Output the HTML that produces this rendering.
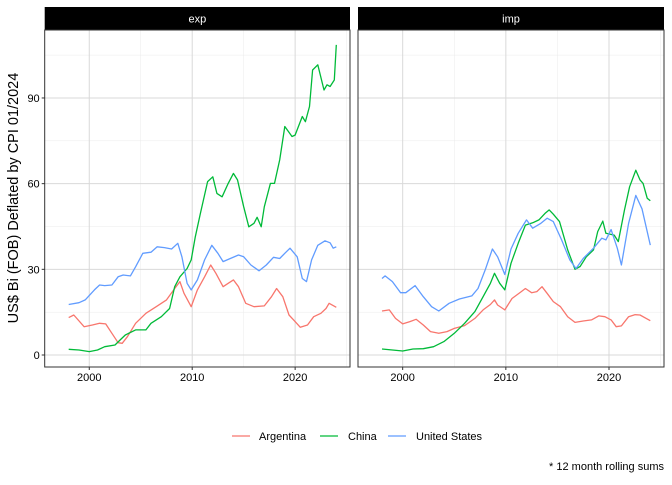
<!DOCTYPE html>
<html><head><meta charset="utf-8"><style>
body{margin:0;background:#fff;}
svg text{font-family:"Liberation Sans",Arial,sans-serif;}
</style></head><body>
<svg id="chart" width="672" height="480" xmlns="http://www.w3.org/2000/svg">
<rect width="672" height="480" fill="#fff"/>
<g id="panels"></g>
<text x="18" y="198" transform="rotate(-90 18 198)" font-size="14.5" text-anchor="middle" fill="#000">US$ Bi (FOB) Deflated by CPI 01/2024</text>
<g>
<g><line x1="232" y1="436" x2="250" y2="436" stroke="#F8766D" stroke-width="1.2"/><text x="259" y="440" font-size="11">Argentina</text></g>
<g><line x1="320" y1="436" x2="338" y2="436" stroke="#00BA38" stroke-width="1.2"/><text x="348" y="440" font-size="11">China</text></g>
<g><line x1="388" y1="436" x2="406" y2="436" stroke="#619CFF" stroke-width="1.2"/><text x="416" y="440" font-size="11">United States</text></g>
</g>
<text x="664" y="470" font-size="11" text-anchor="end">* 12 month rolling sums</text>
</svg>
<script>
const panelNames=["exp","imp"];
const yTicks=[0,30,60,90];
const xTicks=[2000,2010,2020];
const seriesNames=["Argentina","China","United States"];
const expArgYears=[1998,1998.5,1999.5,2000.3,2001,2001.6,2002.2,2002.8,2003.2,2003.7,2004.5,2005.5,2006.5,2007.5,2008.3,2008.8,2009.2,2009.9,2010.5,2011.2,2011.8,2012.3,2013,2013.5,2014,2014.5,2015.2,2016,2017,2017.7,2018.2,2018.8,2019.4,2020,2020.5,2021.2,2021.8,2022.5,2023,2023.3,2024];
const expArgVals=[13.1,14,9.9,10.5,11.1,10.9,7.6,4.3,4.1,6.4,11.1,14.6,16.9,19.3,23.3,25.7,21.6,16.9,22.8,27.4,31.5,28.6,23.9,25.1,26.3,23.9,18.1,16.9,17.2,20.4,23.3,20.4,14,11.7,9.7,10.5,13.4,14.6,16.3,18.1,16.7];
const expChnYears=[1998,1999,2000,2000.8,2001.5,2002.5,2003,2003.5,2004.5,2005.5,2006,2007,2007.8,2008.3,2008.8,2009.5,2009.9,2010.3,2010.8,2011.5,2012,2012.4,2012.9,2013.5,2014,2014.4,2015,2015.5,2016,2016.3,2016.7,2017,2017.6,2018,2018.5,2019,2019.7,2020,2020.7,2021,2021.4,2021.7,2022.2,2022.8,2023.1,2023.4,2023.8,2024];
const expChnVals=[2,1.75,1.2,1.75,2.9,3.5,5.3,7,8.8,8.8,11.1,13.4,16.3,23.9,27.4,30.3,33.3,41.4,49.6,60.7,62.4,56.6,55.4,60.1,63.6,61.3,51.9,44.9,46.1,48.2,44.9,51.9,60.1,60.1,68.3,80,76.5,77,83.5,81.7,87,99.8,101.6,92.8,94.6,94,96.3,108.6];
const expUsYears=[1998,1999,1999.6,2000.5,2001,2001.5,2002.2,2002.8,2003.3,2004,2004.5,2005.2,2006,2006.6,2007.3,2008,2008.6,2009,2009.5,2009.9,2010.5,2011.2,2011.9,2012.5,2013,2013.7,2014.5,2015,2015.7,2016.5,2017.2,2017.9,2018.5,2019,2019.5,2020.2,2020.7,2021.1,2021.6,2022.2,2022.9,2023.4,2023.7,2024];
const expUsVals=[17.7,18.3,19.3,22.8,24.5,24.3,24.5,27.4,28,27.7,30.9,35.6,36,37.9,37.6,37.1,39.1,34.4,25.1,22.8,26.3,33.3,38.4,35.6,32.7,33.8,35,34.4,31.5,29.5,31.5,34.2,33.8,35.6,37.4,34.4,26.8,25.7,33.3,38.4,40,39.3,37.4,37.9];
const impArgYears=[1998,1998.7,1999.3,2000,2000.7,2001.3,2002,2002.7,2003.5,2004.3,2005,2006,2007,2007.8,2008.5,2008.9,2009.2,2009.9,2010.6,2011.5,2011.9,2012.5,2013,2013.5,2014,2014.6,2015.3,2016,2016.7,2017.5,2018.3,2019,2019.6,2020.2,2020.7,2021.2,2021.9,2022.5,2023,2023.6,2024];
const impArgVals=[15.4,15.8,12.8,10.9,11.7,12.5,10.5,8.2,7.6,8.2,9.3,10.3,12.8,15.8,17.7,19.3,17.5,15.8,19.8,22.2,23.3,21.8,22.2,23.9,21.6,18.7,16.9,13.4,11.4,11.9,12.3,13.7,13.4,12.3,9.9,10.2,13.4,14.1,14,12.8,12];
const impChnYears=[1998,1999,2000,2001,2002,2003,2004,2005,2006,2007,2007.8,2008.5,2008.9,2009.4,2009.9,2010.5,2011.2,2011.9,2012.6,2013.2,2013.8,2014.2,2014.6,2015.2,2016,2016.7,2017.2,2017.8,2018.5,2018.9,2019.4,2019.7,2020.5,2020.9,2021.5,2022,2022.6,2023,2023.3,2023.7,2024];
const impChnVals=[2.1,1.75,1.4,2.1,2.2,2.9,4.7,7.6,11.1,15.2,20.4,25.1,28.6,25.1,22.8,32.1,39.1,45.5,46.3,47.3,49.6,50.8,49.3,46.7,36.8,30,31,34.4,36.8,43.2,46.9,42.6,42,39.7,50.8,58.9,64.7,61.3,60.1,54.9,54];
const impUsYears=[1998,1998.3,1999,1999.8,2000.3,2001.2,2002,2002.8,2003.5,2004.5,2005.5,2006.7,2007.3,2008,2008.7,2009.2,2009.9,2010.5,2011.2,2012,2012.6,2013.4,2014,2014.6,2015.4,2016.2,2016.8,2017.5,2018.5,2019.3,2019.7,2020.2,2020.8,2021.2,2021.9,2022.6,2023.2,2024];
const impUsVals=[26.8,27.7,25.7,21.8,21.8,24.3,20.4,16.9,15.4,18.1,19.6,20.7,23.3,29.8,37.1,34.4,28.2,37.1,42.6,47.3,44.4,46.1,47.9,46.7,40.3,33.3,30.3,33.8,37.4,40.9,40.3,43.9,37.4,31.5,46.1,55.9,51.2,38.5];

const colors=["#F8766D","#00BA38","#619CFF"];
const panelData=[
 [[expArgYears,expArgVals],[expChnYears,expChnVals],[expUsYears,expUsVals]],
 [[impArgYears,impArgVals],[impChnYears,impChnVals],[impUsYears,impUsVals]]
];
const NS="http://www.w3.org/2000/svg";
const panelsG=document.getElementById("panels");
const pTop=30,pBottom=367;
const lefts=[44.7,358],widths=[305.3,306];
const yMin=-4.2,yMax=113.8,xMin=1995.67,xMax=2025.33;
function yS(v){return pBottom-(v-yMin)/(yMax-yMin)*(pBottom-pTop);}
function mk(tag,attrs,parent){const e=document.createElementNS(NS,tag);for(const k in attrs)e.setAttribute(k,attrs[k]);parent.appendChild(e);return e;}
panelNames.forEach((pn,pi)=>{
  const L=lefts[pi],W=widths[pi];
  const xS=y=>L+(y-xMin)/(xMax-xMin)*W;
  const pg=mk("g",{},panelsG);
  
  
  const strip=mk("rect",{x:L,y:7,width:W,height:23,fill:"#000"},pg);
  
  
  const st=mk("text",{x:L+W/2,y:22.5,"font-size":"11","text-anchor":"middle",fill:"#fff"},pg);
  st.textContent=pn;
  
  
  [15,45,75,105].forEach(v=>mk("line",{x1:L,x2:L+W,y1:yS(v),y2:yS(v),stroke:"#ebebeb","stroke-width":0.5},pg));
  [2005,2015,2025].forEach(v=>mk("line",{x1:xS(v),x2:xS(v),y1:pTop,y2:pBottom,stroke:"#ebebeb","stroke-width":0.5},pg));
  yTicks.forEach(v=>{
    mk("line",{x1:L,x2:L+W,y1:yS(v),y2:yS(v),stroke:"#d9d9d9","stroke-width":1},pg);
    if(pi===0){
      mk("line",{x1:L-3,x2:L,y1:yS(v),y2:yS(v),stroke:"#333","stroke-width":1},pg);
      const t=mk("text",{x:L-5,y:yS(v)+4,"font-size":"11","text-anchor":"end",fill:"#000"},pg);
      t.textContent=v;
      
      
    }
  });
  xTicks.forEach(v=>{
    mk("line",{x1:xS(v),x2:xS(v),y1:pTop,y2:pBottom,stroke:"#d9d9d9","stroke-width":1},pg);
    mk("line",{x1:xS(v),x2:xS(v),y1:pBottom,y2:pBottom+3,stroke:"#333","stroke-width":1},pg);
    const t=mk("text",{x:xS(v),y:pBottom+14,"font-size":"11","text-anchor":"middle",fill:"#000"},pg);
    t.textContent=v;
    
    
  });
  panelData[pi].forEach((s,si)=>{
    const d=s[0].map((yr,i)=>(i?"L":"M")+xS(yr).toFixed(1)+","+yS(s[1][i]).toFixed(1)).join("");
    const p=mk("path",{d:d,fill:"none",stroke:colors[si],"stroke-width":1.3,"stroke-linejoin":"round"},pg);
    
    
  });
  mk("rect",{x:L,y:pTop,width:W,height:pBottom-pTop,fill:"none",stroke:"#333","stroke-width":1},pg);
});
</script>
</body></html>
